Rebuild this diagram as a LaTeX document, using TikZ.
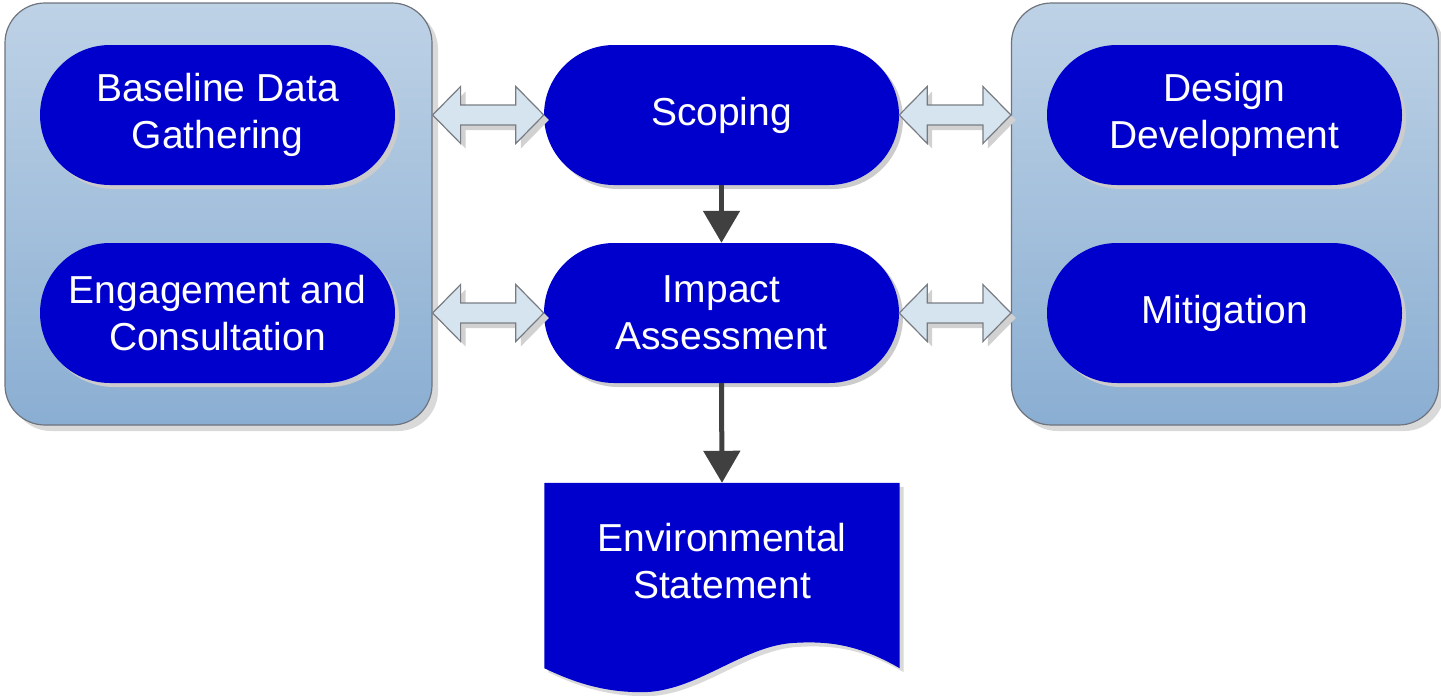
\documentclass[tikz,border=0pt]{standalone}
\usepackage{fontspec}
\setmainfont{Liberation Sans}
\usetikzlibrary{shapes.misc,shadows,calc,arrows.meta}
\definecolor{pillblue}{RGB}{0,0,204}
\definecolor{boxtop}{RGB}{190,210,230}
\definecolor{boxbot}{RGB}{138,174,210}
\definecolor{boxline}{RGB}{110,115,125}
\definecolor{arrfill}{RGB}{214,228,240}
\definecolor{arrline}{RGB}{120,124,130}
\definecolor{downgray}{RGB}{64,64,64}
\newcommand\dblarrow[2]{%
  \path[fill=arrfill, draw=arrline, line width=1.2pt, line join=miter,
        drop shadow={shadow xshift=5pt, shadow yshift=-5pt, fill=black!18, opacity=1}]
   (#1) -- ($(#1)+(28,-28.5)$) -- ($(#1)+(28,-10)$) -- ($(#2)+(-28,-10)$)
   -- ($(#2)+(-28,-28.5)$) -- (#2) -- ($(#2)+(-28,28.5)$) -- ($(#2)+(-28,10)$)
   -- ($(#1)+(28,10)$) -- ($(#1)+(28,28.5)$) -- cycle;}
\tikzset{
  container/.style={rectangle, rounded corners=40pt, draw=boxline, line width=1.2pt,
    top color=boxtop, bottom color=boxbot, minimum width=427pt, minimum height=422pt,
    drop shadow={shadow xshift=6pt, shadow yshift=-6pt, fill=black!15, opacity=1}},
  pill/.style={rounded rectangle, fill=pillblue, text=white, align=center,
    minimum width=355pt, minimum height=140pt, inner sep=0pt,
    font=\fontsize{39}{47}\selectfont,
    drop shadow={shadow xshift=4pt, shadow yshift=-4pt, fill=black!20, opacity=1}},
  downarr/.style={draw=downgray, line width=5pt,
    -{Triangle[width=36pt,length=32pt]}},
  doctext/.style={text=white, align=center, font=\fontsize{39}{47}\selectfont}
}
\begin{document}
\begin{tikzpicture}[x=1pt,y=-1pt]
\useasboundingbox (0,0) rectangle (1441,696);
% containers
\node[container] (lc) at (218.5,214) {};
\node[container] (rc) at (1225,214) {};
% pills
\node[pill] (bd) at (217.5,115) {Baseline Data\\Gathering};
\node[pill] (ec) at (217.5,313) {Engagement and\\Consultation};
\node[pill] (sc) at (721.5,115) {Scoping};
\node[pill] (ia) at (721.5,313) {Impact\\Assessment};
\node[pill] (dd) at (1224.5,115) {Design\\Development};
\node[pill] (mi) at (1224.5,313) {Mitigation};
% document
\node[minimum width=355pt, minimum height=185pt, inner sep=0pt] (env) at (722,575.5) {};
\path[fill=pillblue, drop shadow={shadow xshift=4pt, shadow yshift=-4pt, fill=black!15, opacity=1}]
  (env.north west) -- (env.north east) -- (env.south east)
  .. controls ($(env.south east)+(-40,-23)$) and ($(env.south east)+(-70,-28)$) .. ($(env.south east)+(-110,-25)$)
  .. controls ($(env.south east)+(-160,-20)$) and ($(env.south east)+(-205,24)$) .. ($(env.south east)+(-258,24)$)
  .. controls ($(env.south east)+(-300,24)$) and ($(env.south east)+(-330,12)$) .. (env.south west)
  -- cycle;
\node[doctext] (envt) at (722,561) {Environmental\\Statement};
% double arrows
\coordinate (a1l) at (lc.east |- sc.west);
\coordinate (a2l) at (lc.east |- ia.west);
\coordinate (a1r) at (rc.west |- sc.east);
\coordinate (a2r) at (rc.west |- ia.east);
\dblarrow{a1l}{sc.west}
\dblarrow{a2l}{ia.west}
\dblarrow{sc.east}{a1r}
\dblarrow{ia.east}{a2r}
% down arrows
\draw[downarr] (sc.south) -- (ia.north);
\draw[downarr] (ia.south) -- (env.north);
\end{tikzpicture}
\end{document}
